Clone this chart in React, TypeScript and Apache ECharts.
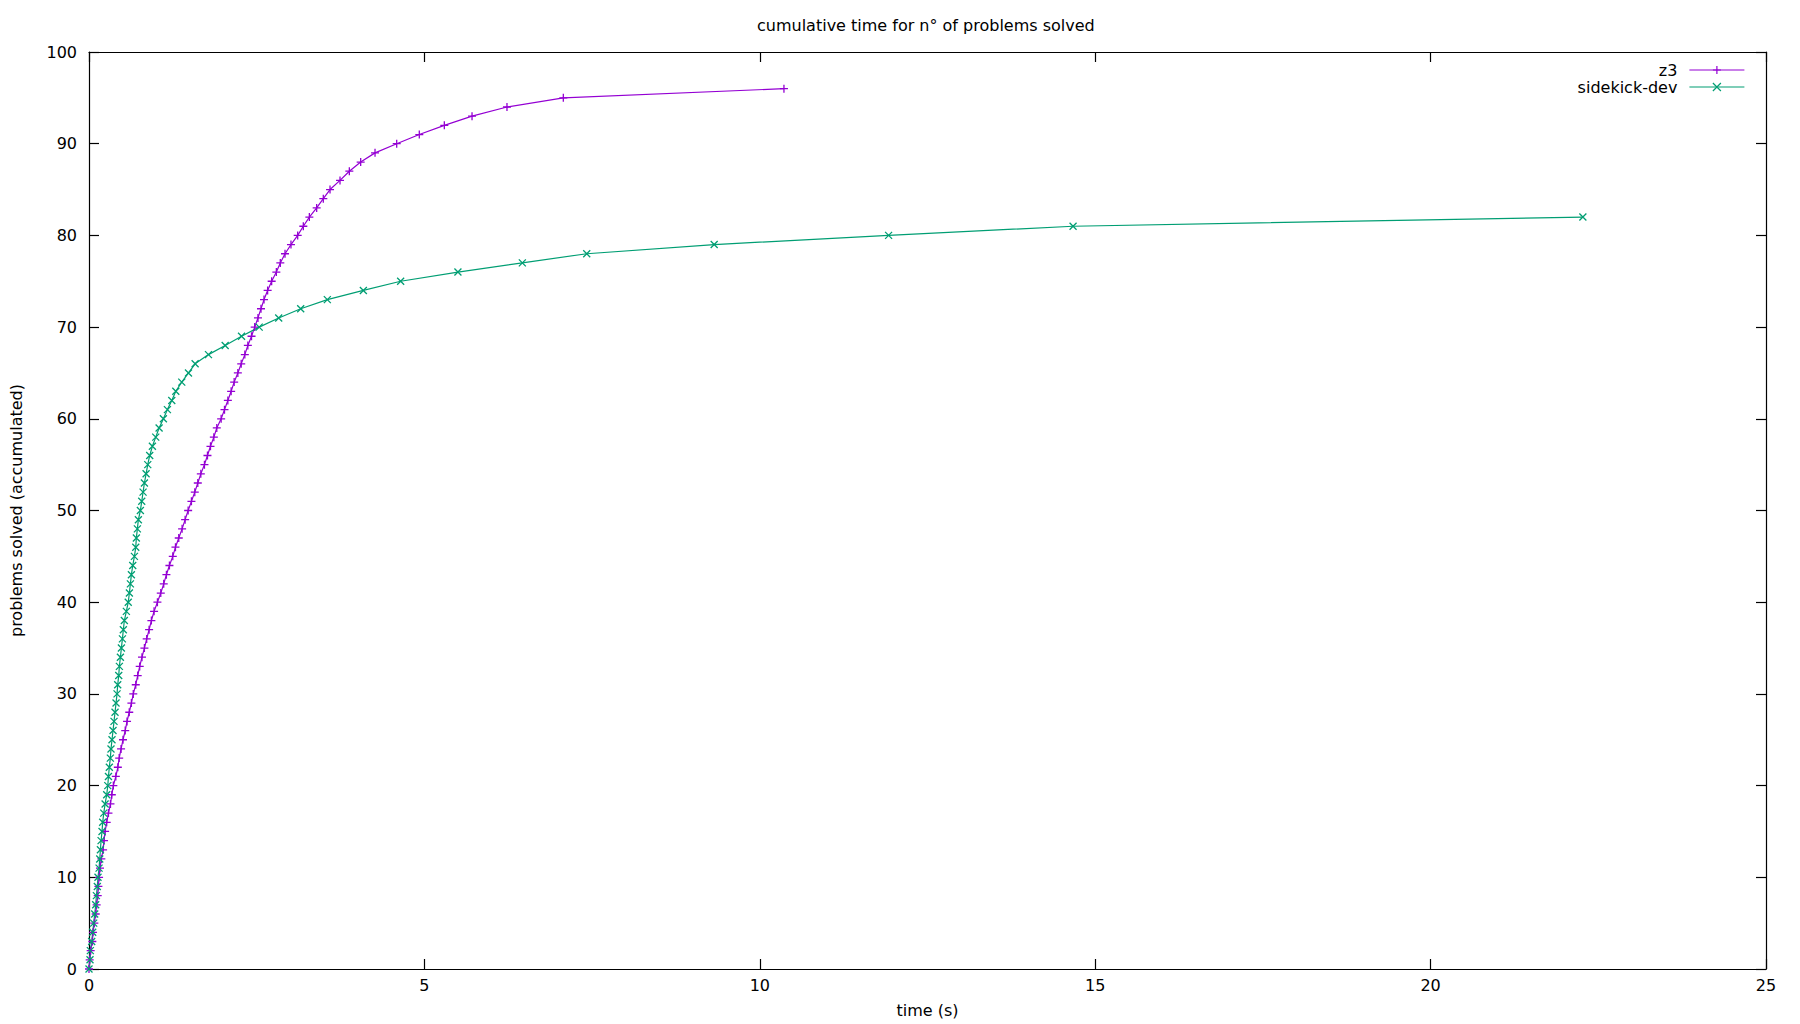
import { useEffect, useRef } from "react";
import * as echarts from "echarts";

const FONT = "'DejaVu Sans', sans-serif";
const Z3_COLOR = "#9400d3";
const SK_COLOR = "#009e73";

// cumulative time (s) after each solved problem
const z3Time = [
  0, 0.01, 0.025, 0.05, 0.06, 0.08, 0.1, 0.114, 0.13, 0.14,
  0.15, 0.164, 0.184, 0.21, 0.224, 0.24, 0.264, 0.29, 0.32, 0.34,
  0.363, 0.4, 0.43, 0.45, 0.478, 0.507, 0.54, 0.567, 0.6, 0.632,
  0.66, 0.697, 0.726, 0.756, 0.79, 0.826, 0.86, 0.896, 0.93, 0.97,
  1.02, 1.07, 1.114, 1.154, 1.199, 1.249, 1.289, 1.338, 1.388, 1.433,
  1.478, 1.527, 1.577, 1.622, 1.667, 1.721, 1.766, 1.811, 1.861, 1.905,
  1.97, 2.02, 2.07, 2.119, 2.164, 2.219, 2.269, 2.323, 2.368, 2.423,
  2.47, 2.519, 2.564, 2.609, 2.663, 2.723, 2.793, 2.852, 2.922, 3.011,
  3.111, 3.195, 3.285, 3.394, 3.493, 3.593, 3.742, 3.881, 4.05, 4.264,
  4.587, 4.924, 5.297, 5.71, 6.231, 7.071, 10.36,
];
const z3Solved = [
  0, 1, 2, 3, 4, 5, 6, 7, 8, 9,
  10, 11, 12, 13, 14, 15, 16, 17, 18, 19,
  20, 21, 22, 23, 24, 25, 26, 27, 28, 29,
  30, 31, 32, 33, 34, 35, 36, 37, 38, 39,
  40, 41, 42, 43, 44, 45, 46, 47, 48, 49,
  50, 51, 52, 53, 54, 55, 56, 57, 58, 59,
  60, 61, 62, 63, 64, 65, 66, 67, 68, 69,
  70, 71, 72, 73, 74, 75, 76, 77, 78, 79,
  80, 81, 82, 83, 84, 85, 86, 87, 88, 89,
  90, 91, 92, 93, 94, 95, 96,
];

const skTime = [
  0, 0.015, 0.02, 0.04, 0.055, 0.07, 0.085, 0.1, 0.11, 0.124,
  0.134, 0.15, 0.16, 0.17, 0.18, 0.194, 0.204, 0.22, 0.24, 0.264,
  0.28, 0.29, 0.303, 0.318, 0.328, 0.343, 0.358, 0.373, 0.388, 0.403,
  0.418, 0.428, 0.443, 0.453, 0.468, 0.483, 0.498, 0.512, 0.527, 0.557,
  0.585, 0.602, 0.617, 0.632, 0.652, 0.677, 0.697, 0.706, 0.721, 0.736,
  0.766, 0.786, 0.806, 0.826, 0.851, 0.876, 0.905, 0.945, 0.995, 1.045,
  1.109, 1.169, 1.234, 1.294, 1.383, 1.483, 1.582, 1.781, 2.03, 2.274,
  2.537, 2.828, 3.156, 3.553, 4.09, 4.646, 5.5, 6.46, 7.42, 9.32,
  11.92, 14.67, 22.27,
];
const skSolved = [
  0, 1, 2, 3, 4, 5, 6, 7, 8, 9,
  10, 11, 12, 13, 14, 15, 16, 17, 18, 19,
  20, 21, 22, 23, 24, 25, 26, 27, 28, 29,
  30, 31, 32, 33, 34, 35, 36, 37, 38, 39,
  40, 41, 42, 43, 44, 45, 46, 47, 48, 49,
  50, 51, 52, 53, 54, 55, 56, 57, 58, 59,
  60, 61, 62, 63, 64, 65, 66, 67, 68, 69,
  70, 71, 72, 73, 74, 75, 76, 77, 78, 79,
  80, 81, 82,
];

const PLUS = "path://M5,0V10M0,5H10";
const CROSS = "path://M0,0L10,10M10,0L0,10";

const LABEL = { fontFamily: FONT, fontSize: 16, color: "#000" };
const LINE = { onZero: false, lineStyle: { color: "#000", width: 1.2 } };
const TICK = { inside: true, length: 10, lineStyle: { color: "#000", width: 1.2 } };

function zip(xs: number[], ys: number[]) {
  return xs.map((x, i) => [x, ys[i]]);
}

function legend(name: string, top: number) {
  return {
    data: [name],
    orient: "horizontal" as const,
    right: 55,
    top,
    padding: 0,
    align: "right" as const,
    itemWidth: 55,
    itemHeight: 10,
    lineStyle: { width: 1.2 },
    itemStyle: { borderWidth: 1.2 },
    textStyle: { ...LABEL, lineHeight: 16, padding: [0, 7, 0, 0] },
  };
}

export default function App() {
  const ref = useRef<HTMLDivElement>(null);

  useEffect(() => {
    document.body.style.margin = "0";
    if (!ref.current) return;
    const chart = echarts.init(ref.current, null, { renderer: "svg" });
    chart.setOption({
      animation: false,
      backgroundColor: "#fff",
      title: {
        text: "cumulative time for n° of problems solved",
        left: 757,
        top: 17,
        padding: 0,
        textStyle: { ...LABEL, fontWeight: "normal" },
      },
      legend: [legend("z3", 62), legend("sidekick-dev", 79)],
      grid: { left: 89, right: 34, top: 52, bottom: 55, outerBoundsMode: "none" },
      xAxis: [
        {
          type: "value", min: 0, max: 25, interval: 5,
          name: "time (s)", nameLocation: "middle", nameGap: 33, nameTextStyle: LABEL,
          axisLine: LINE, axisTick: TICK,
          axisLabel: { ...LABEL, margin: 8 }, splitLine: { show: false },
        },
        {
          type: "value", min: 0, max: 25, interval: 5, position: "top",
          axisLine: LINE, axisTick: TICK,
          axisLabel: { show: false }, splitLine: { show: false },
        },
      ],
      yAxis: [
        {
          type: "value", min: 0, max: 100, interval: 10,
          name: "problems solved (accumulated)", nameLocation: "middle", nameGap: 65,
          nameTextStyle: LABEL,
          axisLine: LINE, axisTick: TICK,
          axisLabel: { ...LABEL, margin: 12 }, splitLine: { show: false },
        },
        {
          type: "value", min: 0, max: 100, interval: 10, position: "right",
          axisLine: LINE, axisTick: TICK,
          axisLabel: { show: false }, splitLine: { show: false },
        },
      ],
      series: [
        {
          name: "z3", type: "line", data: zip(z3Time, z3Solved),
          symbol: PLUS, symbolSize: 8, showAllSymbol: true,
          lineStyle: { color: Z3_COLOR, width: 1.2 },
          itemStyle: { color: Z3_COLOR, borderColor: Z3_COLOR, borderWidth: 1.3 },
        },
        {
          name: "sidekick-dev", type: "line", data: zip(skTime, skSolved),
          symbol: CROSS, symbolSize: 7, showAllSymbol: true,
          lineStyle: { color: SK_COLOR, width: 1.2 },
          itemStyle: { color: SK_COLOR, borderColor: SK_COLOR, borderWidth: 1.3 },
        },
      ],
    });
    return () => chart.dispose();
  }, []);

  return <div ref={ref} style={{ width: 1800, height: 1024 }} />;
}
